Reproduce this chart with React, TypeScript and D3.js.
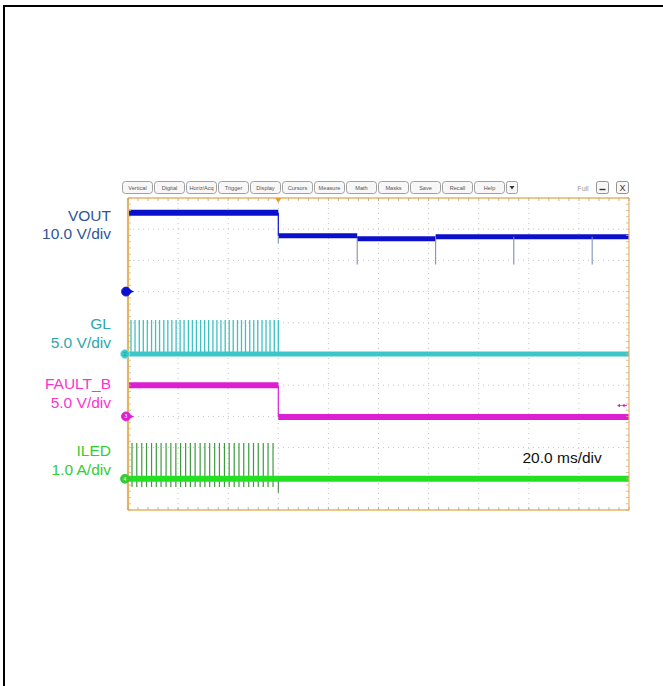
import React from "react";
import * as d3 from "d3";

// ---------- data ----------
const toolbarLabels = ["Vertical", "Digital", "Horiz/Acq", "Trigger", "Display", "Cursors", "Measure", "Math", "Masks", "Save", "Recall", "Help"];
const channelNames = ["VOUT", "GL", "FAULT_B", "ILED"];
const channelScaleLabels = ["10.0 V/div", "5.0 V/div", "5.0 V/div", "1.0 A/div"];
const channelGroundDiv = [3, 5, 7, 9];
const channelUnitsPerDiv = [10, 5, 5, 1];
const timebaseLabel = "20.0 ms/div";
const timeDomainMs = [0, 200];
const timeDivMs = 20;

// VOUT (V)
const voutEdgesMs = [0, 60, 91.5, 122.8, 200];
const voutLevelsV = [25.3, 17.9, 16.9, 17.6];
const voutDipTimesMs = [60, 91.5, 122.8, 154.0, 185.3];
const voutDipValuesV = [15.5, 8.7, 8.7, 8.7, 8.7];

// GL (V)
const glPulseTimesMs = [1.2, 2.8, 4.5, 6.1, 7.7, 9.4, 11.0, 12.6, 14.3, 15.9, 17.5, 19.2, 20.8, 22.4, 24.1, 25.7, 27.3, 29.0, 30.6, 32.2, 33.9, 35.5, 37.1, 38.8, 40.4, 42.0, 43.7, 45.3, 46.9, 48.6, 50.2, 51.8, 53.5, 55.1, 56.7, 58.4, 60.0];
const glPulseHighV = 5.45;
const glBaseV = 0;

// FAULT_B (V)
const faultEdgesMs = [0, 60, 200];
const faultLevelsV = [5.0, -0.1];

// ILED (A)
const iledPulseTimesMs = [1.6, 3.5, 5.5, 7.4, 9.4, 11.3, 13.2, 15.2, 17.1, 19.1, 21.0, 23.0, 24.9, 26.8, 28.8, 30.7, 32.6, 34.6, 36.5, 38.5, 40.4, 42.4, 44.3, 46.2, 48.2, 50.1, 52.0, 54.0, 55.9, 57.9];
const iledPulseHighA = 1.15;
const iledPulseLowA = -0.26;
const iledBaseA = 0;
const iledDipTimeMs = 60;
const iledDipA = -0.45;

// ---------- styles ----------
const traceColors = ["#0a10cc", "#3cc6c8", "#dd1fd4", "#22e022"];
const labelColors = ["#2f5597", "#2aa8aa", "#ff33cc", "#33cc33"];
const rulerColor = "#e6b560";
const gridColor = "#c4c4c4";
const FONT = "'Liberation Sans', Arial, sans-serif";

export default function App() {
  const x = d3.scaleLinear().domain(timeDomainMs).range([128, 629]);
  const gridY = d3.scaleLinear().domain([0, 10]).range([198, 510]);
  const chY = (i: number) => (v: number) => gridY(channelGroundDiv[i] - v / channelUnitsPerDiv[i]);
  const yV = chY(0), yG = chY(1), yF = chY(2), yI = chY(3);

  const majorT = d3.range(timeDomainMs[0], timeDomainMs[1] + 0.001, timeDivMs);
  const minorT = d3.range(timeDomainMs[0], timeDomainMs[1] + 0.001, timeDivMs / 5);
  const majorDiv = d3.range(0, 11, 1);
  const minorDiv = d3.range(0, 10.001, 0.2);

  const [x0, x1] = x.range();
  const [y0, y1] = gridY.range();

  const line = d3.line<[number, number]>();

  const marker = (cx: number, cy: number, color: string, light: boolean, label: string) => (
    <g>
      <path d={line([[cx + 3, cy - 2.5], [cx + 8, cy], [cx + 3, cy + 2.5]]) || ""} fill={color} />
      <circle cx={cx} cy={cy} r={4.5} fill={color} stroke={light ? "#9ee" : color} strokeWidth={0.8} />
      <text x={cx} y={cy + 2} fontSize={5} textAnchor="middle" fill={light ? "#0a7" : "#fff"} fontFamily={FONT}>{label}</text>
    </g>
  );

  return (
    <svg width={663} height={686} style={{ position: "absolute", left: 0, top: 0, background: "#fff" }}>
      {/* outer frame */}
      <path d="M4,686 V6 H663" fill="none" stroke="#000" strokeWidth={2} />

      {/* toolbar */}
      {toolbarLabels.map((t, i) => (
        <g key={t}>
          <rect x={122.5 + i * 32} y={181.5} width={30} height={12} rx={3} fill="#f7f7f7" stroke="#8a8a8a" strokeWidth={0.8} />
          <text x={137.5 + i * 32} y={190} fontSize={5.6} textAnchor="middle" fill="#555" fontFamily={FONT}>{t}</text>
        </g>
      ))}
      <rect x={506.5} y={181.5} width={11} height={12} rx={2} fill="#f7f7f7" stroke="#8a8a8a" strokeWidth={0.8} />
      <path d="M509.5,186 L514.5,186 L512,189.5 Z" fill="#333" />
      <text x={583} y={190.5} fontSize={7} textAnchor="middle" fill="#999" fontFamily={FONT}>Full</text>
      <rect x={596.5} y={181.5} width={12} height={12} rx={2} fill="#f7f7f7" stroke="#777" strokeWidth={0.8} />
      <line x1={599.5} x2={605.5} y1={189.5} y2={189.5} stroke="#333" strokeWidth={1.4} />
      <rect x={616.5} y={181.5} width={12} height={12} rx={2} fill="#f7f7f7" stroke="#777" strokeWidth={0.8} />
      <text x={622.5} y={191} fontSize={9} textAnchor="middle" fill="#333" fontFamily={FONT}>X</text>

      {/* grid */}
      {majorT.slice(1, -1).map((t) => (
        <line key={"gv" + t} x1={x(t)} x2={x(t)} y1={y0} y2={y1} stroke={gridColor} strokeWidth={1} strokeDasharray="1,4" />
      ))}
      {majorDiv.slice(1, -1).map((d) => (
        <line key={"gh" + d} x1={x0} x2={x1} y1={gridY(d)} y2={gridY(d)} stroke={gridColor} strokeWidth={1} strokeDasharray="1,4" />
      ))}

      {/* VOUT */}
      {voutLevelsV.map((v, i) => (
        <line key={"vl" + i} x1={x(voutEdgesMs[i])} x2={x(voutEdgesMs[i + 1])} y1={yV(v)} y2={yV(v)} stroke={traceColors[0]} strokeWidth={i === 0 ? 6 : 5} />
      ))}
      <line x1={x(voutEdgesMs[1])} x2={x(voutEdgesMs[1])} y1={yV(voutLevelsV[0])} y2={yV(voutLevelsV[1])} stroke={traceColors[0]} strokeWidth={1.2} />
      {voutDipTimesMs.map((t, i) => (
        <line key={"vd" + i} x1={x(t)} x2={x(t)} y1={yV(voutLevelsV[Math.min(i + 1, voutLevelsV.length - 1)])} y2={yV(voutDipValuesV[i])} stroke="#7f8fb8" strokeWidth={1.1} />
      ))}

      {/* GL */}
      {glPulseTimesMs.map((t, i) => (
        <line key={"gp" + i} x1={x(t)} x2={x(t)} y1={yG(glBaseV)} y2={yG(glPulseHighV)} stroke="#3fc0c2" strokeWidth={1.3} />
      ))}
      <line x1={x0} x2={x1} y1={yG(glBaseV)} y2={yG(glBaseV)} stroke={traceColors[1]} strokeWidth={5} />

      {/* FAULT_B */}
      {faultLevelsV.map((v, i) => (
        <line key={"fl" + i} x1={x(faultEdgesMs[i])} x2={x(faultEdgesMs[i + 1])} y1={yF(v)} y2={yF(v)} stroke={traceColors[2]} strokeWidth={6} />
      ))}
      <line x1={x(faultEdgesMs[1])} x2={x(faultEdgesMs[1])} y1={yF(faultLevelsV[0])} y2={yF(faultLevelsV[1])} stroke={traceColors[2]} strokeWidth={1.2} />

      {/* ILED */}
      {iledPulseTimesMs.map((t, i) => (
        <line key={"ip" + i} x1={x(t)} x2={x(t)} y1={yI(iledPulseLowA)} y2={yI(iledPulseHighA)} stroke="#3f9a3f" strokeWidth={1.2} />
      ))}
      <line x1={x(iledDipTimeMs)} x2={x(iledDipTimeMs)} y1={yI(iledBaseA)} y2={yI(iledDipA)} stroke="#3f7a3f" strokeWidth={1} />
      <line x1={x0} x2={x1} y1={yI(iledBaseA)} y2={yI(iledBaseA)} stroke={traceColors[3]} strokeWidth={6} />

      {/* rulers */}
      <line x1={x0} x2={x1} y1={y0} y2={y0} stroke={rulerColor} strokeWidth={1.5} />
      <line x1={x0} x2={x1} y1={y1} y2={y1} stroke={rulerColor} strokeWidth={1.5} />
      <line x1={x0} x2={x0} y1={y0} y2={y1} stroke={rulerColor} strokeWidth={2.2} />
      <line x1={x1} x2={x1} y1={y0} y2={y1} stroke={rulerColor} strokeWidth={1.2} />
      {minorT.map((t) => (
        <g key={"tt" + t}>
          <line x1={x(t)} x2={x(t)} y1={y0} y2={y0 + 3} stroke="#b9a37a" strokeWidth={0.8} />
          <line x1={x(t)} x2={x(t)} y1={y1} y2={y1 - 3} stroke="#b9a37a" strokeWidth={0.8} />
        </g>
      ))}
      {minorDiv.map((d) => (
        <g key={"td" + d}>
          <line x1={x0} x2={x0 + 3} y1={gridY(d)} y2={gridY(d)} stroke="#c9b38a" strokeWidth={0.8} />
          <line x1={x1} x2={x1 - 3} y1={gridY(d)} y2={gridY(d)} stroke="#c9b38a" strokeWidth={0.8} />
        </g>
      ))}
      {/* trigger position marker */}
      <path d={line([[x(60) - 3, y0], [x(60) + 3, y0], [x(60), y0 + 5]]) || ""} fill="#e89a30" />

      {/* ground markers */}
      {marker(126, yV(0), traceColors[0], false, "")}
      {marker(125, yG(0), traceColors[1], true, "2")}
      {marker(126, yF(0), traceColors[2], false, "3")}
      {marker(125, yI(0), "#33cc33", false, "4")}
      {/* off-screen level marker for FAULT_B */}
      <line x1={618} x2={627} y1={gridY(6.65)} y2={gridY(6.65)} stroke={traceColors[2]} strokeWidth={0.8} />
      <circle cx={624} cy={gridY(6.65)} r={1.3} fill={traceColors[2]} />
      <path d={line([[617, gridY(6.65)], [620, gridY(6.65) - 1.8], [620, gridY(6.65) + 1.8]]) || ""} fill={traceColors[2]} />

      {/* channel labels */}
      {channelNames.map((n, i) => {
        const baseY = [220.7, 329.3, 389.3, 456][i];
        return (
          <g key={n} fontFamily={FONT} fontSize={15.5} fill={labelColors[i]} textAnchor="end">
            <text x={111} y={baseY}>{n}</text>
            <text x={111} y={baseY + 18.5}>{channelScaleLabels[i]}</text>
          </g>
        );
      })}
      <text x={522.5} y={463.3} fontFamily={FONT} fontSize={15.5} fill="#111">{timebaseLabel}</text>
    </svg>
  );
}
